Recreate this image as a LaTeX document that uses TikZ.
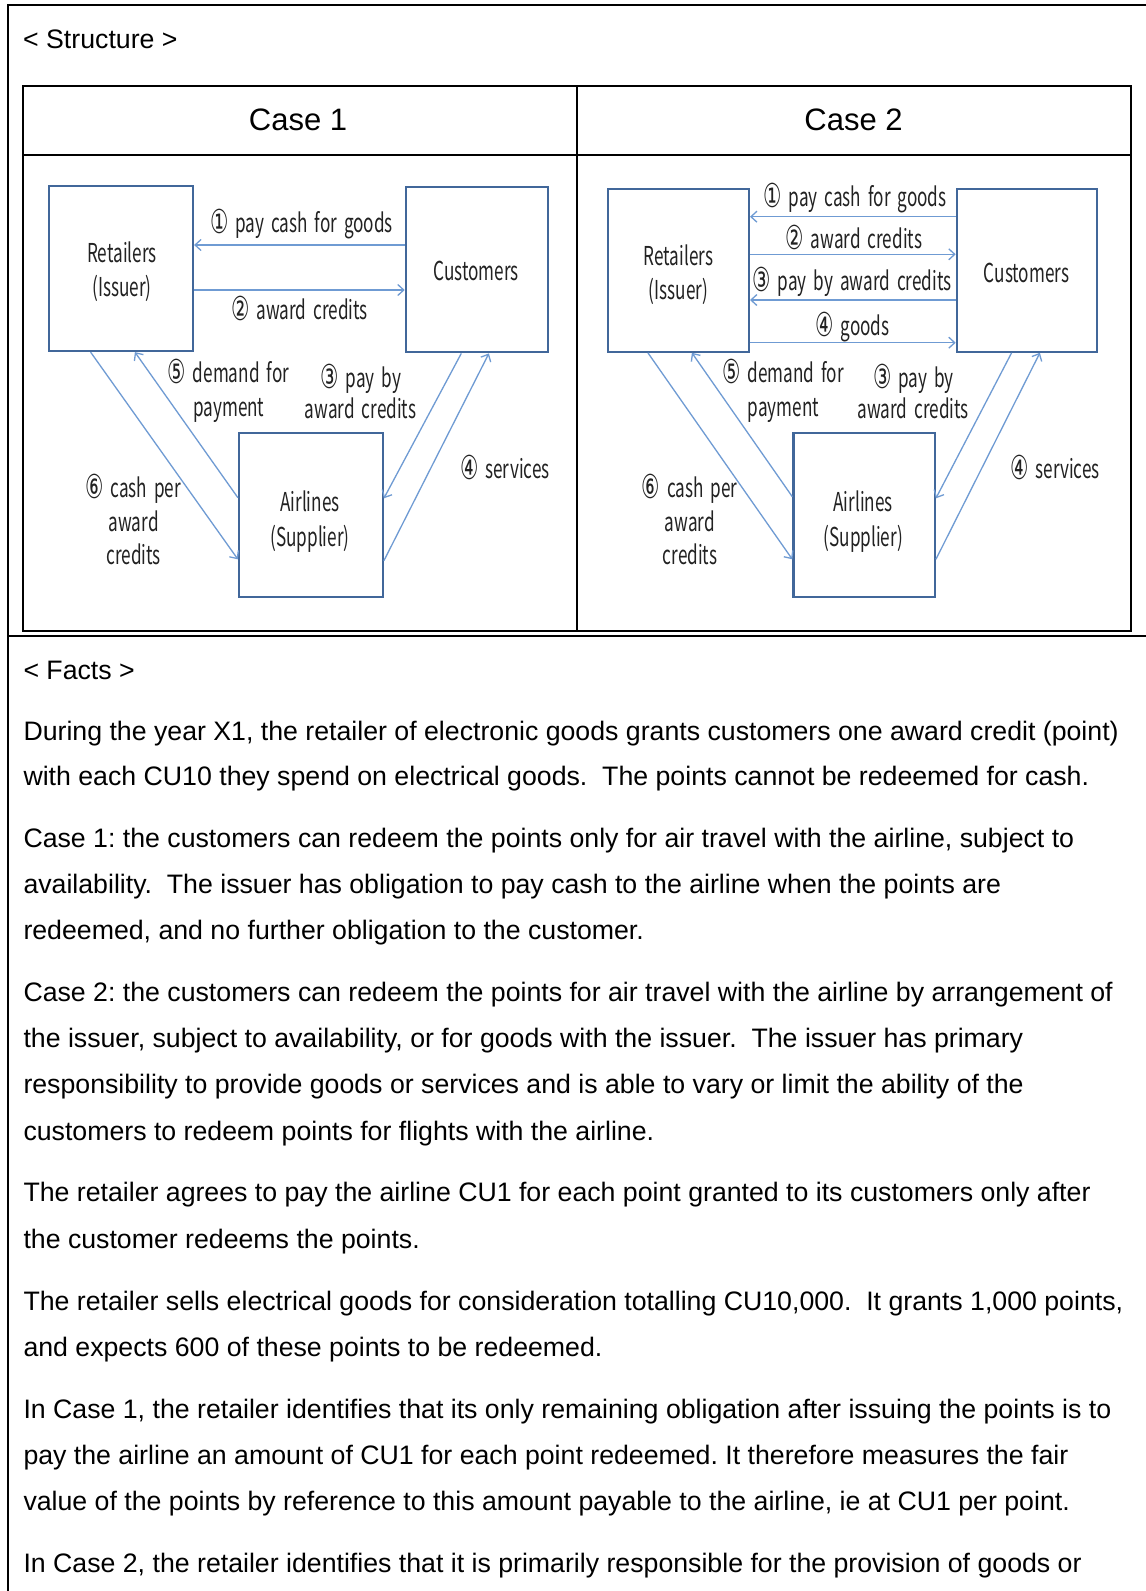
\documentclass[tikz,border=0pt]{standalone}
\usepackage{fontspec}
\setmainfont{Liberation Sans}
\newfontfamily\lblfont[FakeStretch=0.66,WordSpace=1.8]{Noto Sans CJK KR}
\newfontfamily\circfont[FakeStretch=0.62]{DejaVu Sans}
\newcommand\cnum[1]{\raisebox{-1pt}{\circfont\fontsize{33}{34}\selectfont #1}\ }
\usetikzlibrary{arrows.meta}
\definecolor{boxc}{HTML}{41679A}
\definecolor{arrc}{HTML}{6F9BD3}
\definecolor{txtc}{HTML}{222222}
\frenchspacing
\begin{document}
\begin{tikzpicture}[x=1pt,y=-1pt,
  frame/.style={draw=black, line width=2pt},
  box/.style={draw=boxc, line width=2.2pt, inner sep=0pt},
  lbl/.style={inner sep=0pt, text=txtc, font=\lblfont\fontsize{26}{34}\selectfont,
    text height=0.75em, text depth=0.25em},
  arr/.style={draw=arrc, line width=1.3pt, -{Straight Barb[length=6pt,width=11pt]}},
  head/.style={inner sep=0pt, font=\fontsize{31}{36}\selectfont},
  fact/.style={anchor=west, inner sep=0pt, font=\fontsize{26.7}{32}\selectfont,
    text height=0.8em, text depth=0.2em}]
\useasboundingbox (0,0) rectangle (1146,1591);
\fill[white] (0,0) rectangle (1146,1591);
% outer frame
\draw[frame] (1146,5) -- (8,5) -- (8,1591);
\draw[frame] (8,636) -- (1146,636);
% table
\draw[frame] (23,85.5) rectangle (1131,631);
\draw[frame] (23,155) -- (1131,155);
\draw[frame] (577,85.5) -- (577,631);

\node[fact] (structure) at (23,45) {< Structure >};
\node[head] (case1) at (298,120) {Case 1};
\node[head] (case2) at (853.6,120) {Case 2};

% ---------- Case 1 ----------
\node[box, minimum width=143.8pt, minimum height=165.3pt] (ret1) at (121.1,268.35) {};
\node[box, minimum width=142pt, minimum height=165pt] (cust1) at (476.8,269.8) {};
\node[box, minimum width=143.8pt, minimum height=164.6pt] (air1) at (310.9,515) {};
\node[lbl] (ret1a) at (122,260) {Retailers};
\node[lbl] (ret1b) at (122,294) {(Issuer)};
\node[lbl] (cust1a) at (476,278) {Customers};
\node[lbl] (air1a) at (310,508.7) {Airlines};
\node[lbl] (air1b) at (310,543.7) {(Supplier)};

\draw[arr] (cust1.west |- 0,245) -- (ret1.east |- 0,245);
\draw[arr] (ret1.east |- 0,290) -- (cust1.west |- 0,290);
\draw[arr] ([xshift=42.5pt]ret1.south west) -- (air1.west |- 0,559.3);
\draw[arr] (air1.west |- 0,497.7) -- ([xshift=86.8pt]ret1.south west);
\draw[arr] ([xshift=56.6pt]cust1.south west) -- (air1.east |- 0,498.3);
\draw[arr] (air1.east |- 0,560.7) -- ([xshift=84.2pt]cust1.south west);

\node[lbl] (a1l1) at (301.5,230) {\cnum{①}pay cash for goods};
\node[lbl] (a1l2) at (299.6,316.6) {\cnum{②}award credits};
\node[lbl] (a1l5a) at (228.4,380.3) {\cnum{⑤}demand for};
\node[lbl] (a1l5b) at (228.8,414) {payment};
\node[lbl] (a1l3a) at (361,385.3) {\cnum{③}pay by};
\node[lbl] (a1l3b) at (360.6,416.3) {award credits};
\node[lbl] (a1l6a) at (133.2,495.3) {\cnum{⑥}cash per};
\node[lbl] (a1l6b) at (133.7,528.7) {award};
\node[lbl] (a1l6c) at (133.7,562) {credits};
\node[lbl] (a1l4) at (504.9,476) {\cnum{④}services};

% ---------- Case 2 ----------
\node[box, minimum width=141.1pt, minimum height=162.4pt] (ret2) at (678.35,270.5) {};
\node[box, minimum width=140.4pt, minimum height=162.4pt] (cust2) at (1027,270.5) {};
\node[box, minimum width=141.4pt, minimum height=163.4pt] (air2) at (864.1,515) {};
\node[lbl] (ret2a) at (678.4,263) {Retailers};
\node[lbl] (ret2b) at (678.4,297) {(Issuer)};
\node[lbl] (cust2a) at (1026.6,279.7) {Customers};
\node[lbl] (air2a) at (863.2,508.7) {Airlines};
\node[lbl] (air2b) at (863.2,543.7) {(Supplier)};

\draw[arr] (cust2.west |- 0,216.7) -- (ret2.east |- 0,216.7);
\draw[arr] (ret2.east |- 0,254.3) -- (cust2.west |- 0,254.3);
\draw[arr] (cust2.west |- 0,300) -- (ret2.east |- 0,300);
\draw[arr] (ret2.east |- 0,342.7) -- (cust2.west |- 0,342.7);
\draw[arr] ([xshift=41.2pt]ret2.south west) -- (air2.west |- 0,559.3);
\draw[arr] (air2.west |- 0,496.7) -- ([xshift=85.2pt]ret2.south west);
\draw[arr] ([xshift=55.9pt]cust2.south west) -- (air2.east |- 0,498.3);
\draw[arr] (air2.east |- 0,559.3) -- ([xshift=84.2pt]cust2.south west);

\node[lbl] (a2l1) at (855,203.7) {\cnum{①}pay cash for goods};
\node[lbl] (a2l2) at (853.8,246.3) {\cnum{②}award credits};
\node[lbl] (a2l3) at (852,287.7) {\cnum{③}pay by award credits};
\node[lbl] (a2l4) at (852.5,333) {\cnum{④}goods};
\node[lbl] (a2l5a) at (783,380.3) {\cnum{⑤}demand for};
\node[lbl] (a2l5b) at (783.6,414.3) {payment};
\node[lbl] (a2l3a) at (913.5,385.3) {\cnum{③}pay by};
\node[lbl] (a2l3b) at (913,416.3) {award credits};
\node[lbl] (a2l6a) at (689.8,495.3) {\cnum{⑥}cash per};
\node[lbl] (a2l6b) at (689.8,528.7) {award};
\node[lbl] (a2l6c) at (690,562) {credits};
\node[lbl] (a2l4s) at (1055,476) {\cnum{④}services};

% ---------- Facts ----------
\node[fact] (facts) at (23.3,676) {< Facts >};
\node[fact] (f1) at (23.3,737) {During the year X1, the retailer of electronic goods grants customers one award credit (point)};
\node[fact] (f2) at (23.3,782.7) {with each CU10 they spend on electrical goods.\ \ The points cannot be redeemed for cash.};
\node[fact] (f3) at (23.3,844.6) {Case 1: the customers can redeem the points only for air travel with the airline, subject to};
\node[fact] (f4) at (23.3,890.3) {availability.\ \ The issuer has obligation to pay cash to the airline when the points are};
\node[fact] (f5) at (23.3,936) {redeemed, and no further obligation to the customer.};
\node[fact] (f6) at (23.3,998.9) {Case 2: the customers can redeem the points for air travel with the airline by arrangement of};
\node[fact] (f7) at (23.3,1044.6) {the issuer, subject to availability, or for goods with the issuer.\ \ The issuer has primary};
\node[fact] (f8) at (23.3,1090.2) {responsibility to provide goods or services and is able to vary or limit the ability of the};
\node[fact] (f9) at (23.3,1137) {customers to redeem points for flights with the airline.};
\node[fact] (f10) at (23.3,1198.9) {The retailer agrees to pay the airline CU1 for each point granted to its customers only after};
\node[fact] (f11) at (23.3,1245.6) {the customer redeems the points.};
\node[fact] (f12) at (23.3,1307.5) {The retailer sells electrical goods for consideration totalling CU10,000.\ \ It grants 1,000 points,};
\node[fact] (f13) at (23.3,1353.2) {and expects 600 of these points to be redeemed.};
\node[fact] (f14) at (23.3,1415.1) {In Case 1, the retailer identifies that its only remaining obligation after issuing the points is to};
\node[fact] (f15) at (23.3,1461.8) {pay the airline an amount of CU1 for each point redeemed. It therefore measures the fair};
\node[fact] (f16) at (23.3,1507.5) {value of the points by reference to this amount payable to the airline, ie at CU1 per point.};
\node[fact] (f17) at (23.3,1569.4) {In Case 2, the retailer identifies that it is primarily responsible for the provision of goods or};
\end{tikzpicture}
\end{document}
